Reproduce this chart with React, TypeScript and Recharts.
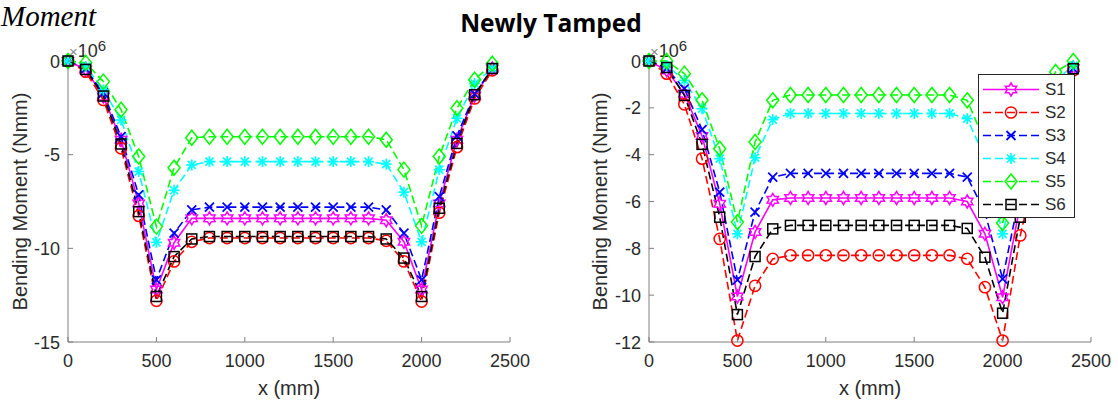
import React from 'react';
import { LineChart, Line, XAxis, YAxis, Legend } from 'recharts';

// x positions along the beam (mm)
const X_MM = [0, 100, 200, 300, 400, 500, 600, 700, 800, 900, 1000, 1100, 1200, 1300, 1400, 1500, 1600, 1700, 1800, 1900, 2000, 2100, 2200, 2300, 2400];

const SERIES_NAMES = ['S1', 'S2', 'S3', 'S4', 'S5', 'S6'];

// left panel, bending moment in 1e6 Nmm
const LEFT_S1 = [0, -0.45, -1.9, -4.2, -7.6, -12.2, -9.7, -8.4, -8.4, -8.4, -8.4, -8.4, -8.4, -8.4, -8.4, -8.4, -8.4, -8.4, -8.5, -9.65, -12.2, -7.6, -4.2, -1.85, -0.4];
const LEFT_S2 = [0, -0.57, -2.08, -4.66, -8.27, -12.8, -10.7, -9.65, -9.45, -9.45, -9.45, -9.45, -9.45, -9.45, -9.45, -9.45, -9.45, -9.45, -9.6, -10.7, -12.84, -8.1, -4.6, -2.0, -0.5];
const LEFT_S3 = [0, -0.4, -1.72, -4.04, -7.15, -11.68, -9.19, -7.95, -7.8, -7.8, -7.8, -7.8, -7.8, -7.8, -7.8, -7.8, -7.8, -7.8, -7.95, -9.19, -11.68, -7.24, -4.0, -1.75, -0.4];
const LEFT_S4 = [0, -0.3, -1.55, -3.15, -5.9, -9.68, -6.9, -5.55, -5.37, -5.37, -5.37, -5.37, -5.37, -5.37, -5.37, -5.37, -5.37, -5.37, -5.5, -7.0, -9.65, -5.8, -3.06, -1.2, -0.39];
const LEFT_S5 = [0, -0.1, -1.1, -2.6, -5.1, -8.84, -5.7, -4.1, -4.04, -4.04, -4.04, -4.04, -4.04, -4.04, -4.04, -4.04, -4.04, -4.04, -4.2, -5.8, -8.8, -5.1, -2.52, -1.0, -0.15];
const LEFT_S6 = [0, -0.45, -1.87, -4.43, -8.04, -12.57, -10.44, -9.5, -9.37, -9.37, -9.37, -9.37, -9.37, -9.37, -9.37, -9.37, -9.37, -9.37, -9.5, -10.52, -12.57, -7.86, -4.4, -1.8, -0.4];

// right panel, bending moment in 1e6 Nmm
const RIGHT_S1 = [0, -0.4, -1.4, -3.2, -6.1, -10.06, -7.3, -5.93, -5.85, -5.85, -5.85, -5.85, -5.85, -5.85, -5.85, -5.85, -5.85, -5.85, -6.0, -7.38, -10.09, -6.1, -3.2, -1.4, -0.3];
const RIGHT_S2 = [0, -0.54, -1.85, -4.17, -7.6, -11.94, -9.6, -8.45, -8.3, -8.3, -8.3, -8.3, -8.3, -8.3, -8.3, -8.3, -8.3, -8.3, -8.45, -9.66, -11.94, -7.45, -4.2, -1.85, -0.4];
const RIGHT_S3 = [0, -0.33, -1.18, -2.93, -5.6, -9.35, -6.45, -4.96, -4.8, -4.8, -4.8, -4.8, -4.8, -4.8, -4.8, -4.8, -4.8, -4.8, -4.96, -6.45, -9.3, -5.6, -2.93, -1.18, -0.33];
const RIGHT_S4 = [0, -0.2, -0.83, -2.04, -4.17, -7.38, -4.13, -2.5, -2.24, -2.24, -2.24, -2.24, -2.24, -2.24, -2.24, -2.24, -2.24, -2.24, -2.46, -4.13, -7.38, -4.17, -2.04, -0.83, -0.2];
const RIGHT_S5 = [0, 0, -0.54, -1.68, -3.75, -6.88, -3.46, -1.68, -1.45, -1.45, -1.45, -1.45, -1.45, -1.45, -1.45, -1.45, -1.45, -1.45, -1.68, -3.46, -6.92, -3.75, -1.68, -0.47, 0];
const RIGHT_S6 = [0, -0.28, -1.47, -3.56, -6.67, -10.83, -8.35, -7.17, -7.02, -7.02, -7.02, -7.02, -7.02, -7.02, -7.02, -7.02, -7.02, -7.02, -7.15, -8.38, -10.77, -6.67, -3.56, -1.47, -0.33];

const X_TICKS = [0, 500, 1000, 1500, 2000, 2500];
const LEFT_Y_TICKS = [-15, -10, -5, 0];
const RIGHT_Y_TICKS = [-12, -10, -8, -6, -4, -2, 0];

const TITLE = 'Newly Tamped';
const CUT_TEXT = 'Moment';
const X_LABEL = 'x (mm)';
const Y_LABEL = 'Bending Moment (Nmm)';

const AXIS_COLOR = '#7f7f7f';
const TEXT_COLOR = '#2b2b2b';
const FONT = '"Liberation Sans", Arial, sans-serif';

const LOOK: Record<string, { color: string; marker: string; dash?: string }> = {
  S1: { color: '#ff00ff', marker: 'hexagram' },
  S2: { color: '#ff0000', marker: 'circle', dash: '8 4' },
  S3: { color: '#0000ff', marker: 'x', dash: '8 4' },
  S4: { color: '#00ffff', marker: 'asterisk', dash: '8 4' },
  S5: { color: '#00ff00', marker: 'diamond', dash: '8 4' },
  S6: { color: '#000000', marker: 'square', dash: '8 4' },
};

const buildRows = (cols: number[][]) =>
  X_MM.map((x, i) => {
    const row: Record<string, number> = { x };
    SERIES_NAMES.forEach((name, k) => {
      row[name] = cols[k][i];
    });
    return row;
  });

const leftRows = buildRows([LEFT_S1, LEFT_S2, LEFT_S3, LEFT_S4, LEFT_S5, LEFT_S6]);
const rightRows = buildRows([RIGHT_S1, RIGHT_S2, RIGHT_S3, RIGHT_S4, RIGHT_S5, RIGHT_S6]);

function Marker({ kind, cx, cy, color }: { kind: string; cx: number; cy: number; color: string }) {
  const sw = 1.5;
  if (cx == null || cy == null) return null;
  switch (kind) {
    case 'hexagram': {
      const pts: string[] = [];
      for (let k = 0; k < 12; k++) {
        const r = k % 2 === 0 ? 6.5 : 3.8;
        const a = -Math.PI / 2 + (k * Math.PI) / 6;
        pts.push(`${cx + r * Math.cos(a)},${cy + r * Math.sin(a)}`);
      }
      return <polygon points={pts.join(' ')} fill="none" stroke={color} strokeWidth={sw} />;
    }
    case 'circle':
      return <circle cx={cx} cy={cy} r={5.6} fill="none" stroke={color} strokeWidth={sw} />;
    case 'x':
      return (
        <g stroke={color} strokeWidth={sw + 0.3}>
          <line x1={cx - 4.5} y1={cy - 4.5} x2={cx + 4.5} y2={cy + 4.5} />
          <line x1={cx - 4.5} y1={cy + 4.5} x2={cx + 4.5} y2={cy - 4.5} />
        </g>
      );
    case 'asterisk':
      return (
        <g stroke={color} strokeWidth={sw + 0.2}>
          <line x1={cx - 5.5} y1={cy} x2={cx + 5.5} y2={cy} />
          <line x1={cx} y1={cy - 5.5} x2={cx} y2={cy + 5.5} />
          <line x1={cx - 4} y1={cy - 4} x2={cx + 4} y2={cy + 4} />
          <line x1={cx - 4} y1={cy + 4} x2={cx + 4} y2={cy - 4} />
        </g>
      );
    case 'diamond':
      return (
        <polygon
          points={`${cx},${cy - 7.5} ${cx + 6},${cy} ${cx},${cy + 7.5} ${cx - 6},${cy}`}
          fill="none"
          stroke={color}
          strokeWidth={sw}
        />
      );
    default:
      return <rect x={cx - 5} y={cy - 5} width={10} height={10} fill="none" stroke={color} strokeWidth={sw} />;
  }
}

const XTick = (props: any) => {
  const { x, y, payload } = props;
  return (
    <g>
      <line x1={x} y1={y} x2={x} y2={y - 5} stroke={AXIS_COLOR} />
      <text x={x} y={y + 25} textAnchor="middle" fill={TEXT_COLOR} fontSize={18} fontFamily={FONT}>
        {payload.value}
      </text>
    </g>
  );
};

const YTick = (props: any) => {
  const { x, y, payload } = props;
  return (
    <g>
      <line x1={x} y1={y} x2={x + 5} y2={y} stroke={AXIS_COLOR} />
      <text x={x - 8} y={y + 6.5} textAnchor="end" fill={TEXT_COLOR} fontSize={18} fontFamily={FONT}>
        {payload.value}
      </text>
    </g>
  );
};

const YTitle = (props: any) => {
  const { viewBox } = props;
  const cx = viewBox.x + 20;
  const cy = viewBox.y + viewBox.height / 2;
  const px = viewBox.x + viewBox.width + 1;
  return (
    <g fontFamily={FONT}>
      <text
        x={cx}
        y={cy}
        transform={`rotate(-90, ${cx}, ${cy})`}
        textAnchor="middle"
        dominantBaseline="central"
        fill={TEXT_COLOR}
        fontSize={20}
      >
        {Y_LABEL}
      </text>
      <text x={px} y={viewBox.y - 4} fill={TEXT_COLOR} fontSize={18}>
        <tspan fill="#8a8a8a" fontSize={15}>×</tspan>
        <tspan>10</tspan>
        <tspan dy={-6} fontSize={15}>6</tspan>
      </text>
    </g>
  );
};

const XTitle = (props: any) => {
  const { viewBox } = props;
  return (
    <text
      x={viewBox.x + viewBox.width / 2}
      y={viewBox.y + 53}
      textAnchor="middle"
      fill={TEXT_COLOR}
      fontSize={20}
      fontFamily={FONT}
    >
      {X_LABEL}
    </text>
  );
};

const LegendBox = () => (
  <div
    style={{
      width: 97,
      height: 144,
      boxSizing: 'border-box',
      border: '1px solid #262626',
      background: '#fff',
      paddingTop: 3,
    }}
  >
    {SERIES_NAMES.map((name) => {
      const look = LOOK[name];
      return (
        <div key={name} style={{ height: 23, display: 'flex', alignItems: 'center' }}>
          <svg width={64} height={23} style={{ display: 'block' }}>
            <line x1={4} y1={11.5} x2={60} y2={11.5} stroke={look.color} strokeWidth={1.6} strokeDasharray={look.dash} />
            <Marker kind={look.marker} cx={32} cy={11.5} color={look.color} />
          </svg>
          <span style={{ fontFamily: FONT, fontSize: 17, color: TEXT_COLOR, marginLeft: 2 }}>{name}</span>
        </div>
      );
    })}
  </div>
);

function Panel({
  rows,
  width,
  yTicks,
  yWidth,
  rightMargin,
  showLegend,
}: {
  rows: Record<string, number>[];
  width: number;
  yTicks: number[];
  yWidth: number;
  rightMargin: number;
  showLegend?: boolean;
}) {
  return (
    <LineChart width={width} height={401} data={rows} margin={{ top: 61, right: rightMargin, bottom: 0, left: 0 }}>
      <XAxis
        dataKey="x"
        type="number"
        domain={[0, 2500]}
        ticks={X_TICKS}
        interval={0}
        height={59}
        tickSize={0}
        tickMargin={0}
        tickLine={false}
        axisLine={{ stroke: AXIS_COLOR }}
        tick={<XTick />}
        label={<XTitle />}
      />
      <YAxis
        type="number"
        domain={[yTicks[0], 0]}
        ticks={yTicks}
        interval={0}
        width={yWidth}
        tickSize={0}
        tickMargin={0}
        tickLine={false}
        axisLine={{ stroke: AXIS_COLOR }}
        tick={<YTick />}
        label={<YTitle />}
      />
      {SERIES_NAMES.map((name) => {
        const look = LOOK[name];
        return (
          <Line
            key={name}
            dataKey={name}
            type="linear"
            stroke={look.color}
            strokeWidth={1.6}
            strokeDasharray={look.dash}
            isAnimationActive={false}
            activeDot={false}
            dot={(p: any) => <Marker key={`${name}-${p.index}`} kind={look.marker} cx={p.cx} cy={p.cy} color={look.color} />}
          />
        );
      })}
      {showLegend && (
        <Legend
          layout="horizontal"
          verticalAlign="middle"
          align="center"
          content={() => <LegendBox />}
          wrapperStyle={{ left: 398, top: 74, width: 97, height: 144 }}
        />
      )}
    </LineChart>
  );
}

export default function App() {
  return (
    <div style={{ position: 'absolute', left: 0, top: 0, width: 1118, height: 401, background: '#fff', overflow: 'hidden' }}>
      <svg width={1118} height={40} style={{ position: 'absolute', left: 0, top: 0 }}>
        <text x={1} y={26} fontFamily='"Liberation Serif", "Times New Roman", serif' fontStyle="italic" fontSize={29} fill="#000">
          {CUT_TEXT}
        </text>
        <text x={551} y={32} textAnchor="middle" fontFamily='"Open Sans", sans-serif' fontWeight="bold" fontSize={24.5} fill="#000">
          {TITLE}
        </text>
      </svg>
      <div style={{ position: 'absolute', left: 0, top: 0 }}>
        <Panel rows={leftRows} width={560} yTicks={LEFT_Y_TICKS} yWidth={68} rightMargin={50} />
      </div>
      <div style={{ position: 'absolute', left: 580, top: 0 }}>
        <Panel rows={rightRows} width={538} yTicks={RIGHT_Y_TICKS} yWidth={69} rightMargin={27} showLegend />
      </div>
    </div>
  );
}
